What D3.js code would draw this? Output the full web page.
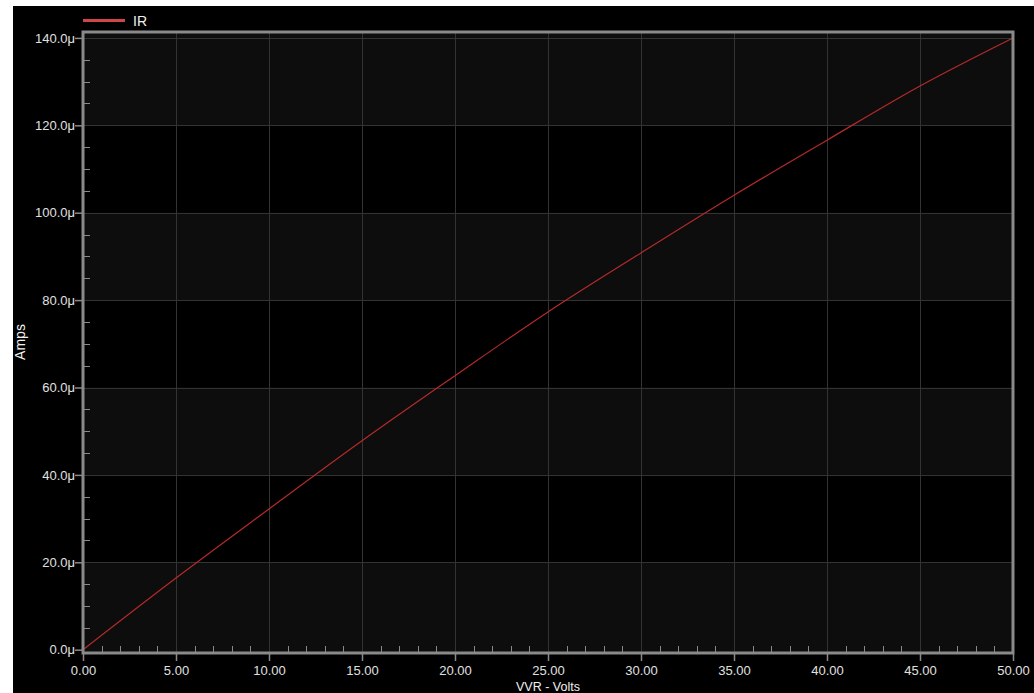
<!DOCTYPE html>
<html>
<head>
<meta charset="utf-8">
<script src="https://cdn.jsdelivr.net/npm/d3@7"></script>
<style>
  html, body { margin: 0; padding: 0; background: #fff; }
  svg { display: block; }
  text { font-family: "Liberation Sans", Arial, sans-serif; }
</style>
</head>
<body>
<svg id="chart" width="1034" height="693"></svg>
<script>
// Swept source voltage (V) and resulting current IR (µA)
const voltage = [0, 5, 10, 15, 20, 25, 30, 35, 40, 45, 50];
const currentMicroAmps = [0, 16.4, 32.2, 47.8, 62.7, 77.3, 90.8, 104.0, 116.6, 129.0, 140.0];

const xTicks = [0, 5, 10, 15, 20, 25, 30, 35, 40, 45, 50];
const yTicks = [0, 20, 40, 60, 80, 100, 120, 140];
const seriesName = "IR";
const xTitle = "VVR - Volts";
const yTitle = "Amps";

const W = 1034, H = 693;
const frame = { left: 83, right: 1013, top: 32, bottom: 653 };

const svg = d3.select("#chart");

// page background: black canvas with a thin white margin at top/left
svg.append("rect").attr("width", W).attr("height", H).attr("fill", "#fff");
svg.append("rect").attr("x", 13).attr("y", 6).attr("width", W - 13).attr("height", H - 6).attr("fill", "#000");

const x = d3.scaleLinear().domain([0, 50]).range([frame.left, frame.right]);
const y = d3.scaleLinear().domain([0, 140]).range([649.7, 37.9]);

// plot background
svg.append("rect")
  .attr("x", frame.left).attr("y", frame.top)
  .attr("width", frame.right - frame.left).attr("height", frame.bottom - frame.top)
  .attr("fill", "#0d0d0d");

// alternating dark bands between horizontal gridlines
const bands = [[20, 40], [60, 80], [100, 120]];
svg.append("g").selectAll("rect").data(bands).join("rect")
  .attr("x", frame.left).attr("width", frame.right - frame.left)
  .attr("y", d => y(d[1])).attr("height", d => y(d[0]) - y(d[1]))
  .attr("fill", "#000");

// gridlines
const grid = svg.append("g").attr("stroke", "#333").attr("stroke-width", 1).attr("shape-rendering", "crispEdges");
grid.selectAll("line.v").data(xTicks.slice(1, -1)).join("line")
  .attr("class", "v")
  .attr("x1", d => Math.round(x(d)) + 0.5).attr("x2", d => Math.round(x(d)) + 0.5)
  .attr("y1", frame.top).attr("y2", frame.bottom);
grid.selectAll("line.h").data(yTicks.slice(1)).join("line")
  .attr("class", "h")
  .attr("y1", d => Math.round(y(d)) + 0.5).attr("y2", d => Math.round(y(d)) + 0.5)
  .attr("x1", frame.left).attr("x2", frame.right);

// minor ticks inside the frame
const minorX = d3.range(1, 50).filter(v => v % 5 !== 0);
const minorY = d3.range(5, 140, 5).filter(v => v % 20 !== 0);
const minor = svg.append("g").attr("stroke", "#8a8a8a").attr("stroke-width", 1).attr("shape-rendering", "crispEdges");
minor.selectAll("line.mx").data(minorX).join("line")
  .attr("class", "mx")
  .attr("x1", d => Math.round(x(d)) + 0.5).attr("x2", d => Math.round(x(d)) + 0.5)
  .attr("y1", frame.bottom - 7).attr("y2", frame.bottom);
minor.selectAll("line.my").data(minorY).join("line")
  .attr("class", "my")
  .attr("y1", d => Math.round(y(d)) + 0.5).attr("y2", d => Math.round(y(d)) + 0.5)
  .attr("x1", frame.left).attr("x2", frame.left + 7);

// data line
const line = d3.line()
  .x((d, i) => x(voltage[i]))
  .y(d => y(d))
  .curve(d3.curveMonotoneX);
svg.append("path")
  .datum(currentMicroAmps)
  .attr("d", line)
  .attr("fill", "none")
  .attr("stroke", "#b52a2a")
  .attr("stroke-width", 1.2);

// frame
svg.append("rect")
  .attr("x", frame.left).attr("y", frame.top)
  .attr("width", frame.right - frame.left).attr("height", frame.bottom - frame.top)
  .attr("fill", "none").attr("stroke", "#8a8a8a").attr("stroke-width", 3);

// axes
const xAxis = d3.axisBottom(x).tickValues(xTicks).tickFormat(d3.format(".2f")).tickSize(7).tickSizeOuter(0);
const gx = svg.append("g").attr("transform", `translate(0,${frame.bottom + 1})`).call(xAxis);
gx.select(".domain").remove();
gx.selectAll(".tick line").attr("stroke", "#8a8a8a").attr("stroke-width", 1.5);
gx.selectAll(".tick text").attr("fill", "#e0e0e0").attr("font-size", 13)
  .attr("font-family", "'Liberation Sans', Arial, sans-serif").attr("dy", null).attr("y", 21);

const yAxis = d3.axisLeft(y).tickValues(yTicks).tickFormat(d => d3.format(".1f")(d) + "μ").tickSize(7).tickSizeOuter(0);
const gy = svg.append("g").attr("transform", `translate(${frame.left - 1},0)`).call(yAxis);
gy.select(".domain").remove();
gy.selectAll(".tick line").attr("stroke", "#8a8a8a").attr("stroke-width", 1.5);
gy.selectAll(".tick text").attr("fill", "#e0e0e0").attr("font-size", 13)
  .attr("font-family", "'Liberation Sans', Arial, sans-serif").attr("x", -7);

// axis titles
svg.append("text")
  .attr("x", (frame.left + frame.right) / 2).attr("y", 690.5)
  .attr("text-anchor", "middle").attr("fill", "#f0f0f0").attr("font-size", 12.5)
  .text(xTitle);
svg.append("text")
  .attr("transform", "translate(25,342) rotate(-90)")
  .attr("text-anchor", "middle").attr("fill", "#f0f0f0").attr("font-size", 14)
  .text(yTitle);

// legend
svg.append("line")
  .attr("x1", 83).attr("x2", 125).attr("y1", 20.5).attr("y2", 20.5)
  .attr("stroke", "#d04545").attr("stroke-width", 3);
svg.append("text")
  .attr("x", 133).attr("y", 25.5)
  .attr("fill", "#f0f0f0").attr("font-size", 14)
  .text(seriesName);
</script>
</body>
</html>
